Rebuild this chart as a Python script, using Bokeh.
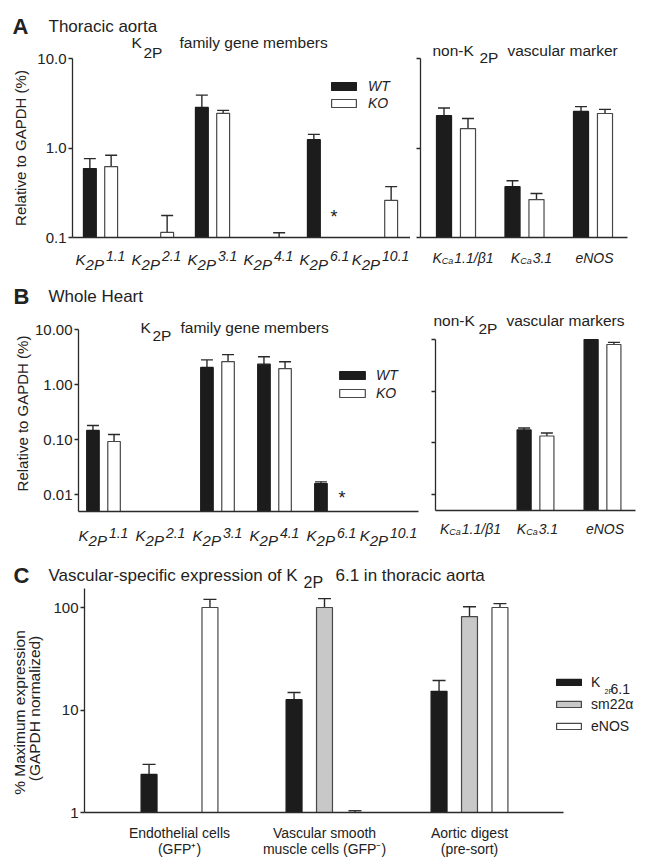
import math
from bokeh.plotting import figure
from bokeh.models import (Range1d, FixedTicker, NumeralTickFormatter, Label, Legend,
                          LegendItem, Whisker, TeeHead, ColumnDataSource)
from bokeh.layouts import column, row
from bokeh.embed import file_html
from bokeh.resources import INLINE

FONT = "Liberation Sans"
INK = "#222222"
AX = "#2a2a2a"
BLACK = "#1c1c1c"
EDGE = "#474747"
GREY = "#c8c8c8"

# ---------------- data ----------------
k2p_members = ["1.1", "2.1", "3.1", "4.1", "6.1", "10.1"]
marker_parts = [("K", "Ca", "1.1/β1"), ("K", "Ca", "3.1"), ("", "", "eNOS")]
genotypes = ["WT", "KO"]

# A: thoracic aorta, relative to GAPDH (%)
a_k2p_wt = [0.59, None, 2.84, None, 1.24, None]
a_k2p_wt_sem = [0.17, None, 1.06, None, 0.18, None]
a_k2p_ko = [0.62, 0.114, 2.44, 0.10, None, 0.26]
a_k2p_ko_sem = [0.21, 0.062, 0.19, 0.013, None, 0.11]
a_mark_wt = [2.30, 0.37, 2.56]
a_mark_wt_sem = [0.50, 0.06, 0.34]
a_mark_ko = [1.65, 0.265, 2.43]
a_mark_ko_sem = [0.49, 0.045, 0.27]

# B: whole heart, relative to GAPDH (%)
b_k2p_wt = [0.146, None, 2.04, 2.34, 0.0158, None]
b_k2p_wt_sem = [0.034, None, 0.76, 0.86, 0.0012, None]
b_k2p_ko = [0.092, None, 2.60, 1.95, None, None]
b_k2p_ko_sem = [0.031, None, 0.90, 0.65, None, None]
b_mark_wt = [None, 0.178, 10.0]
b_mark_wt_sem = [None, 0.016, None]
b_mark_ko = [None, 0.136, 8.0]
b_mark_ko_sem = [None, 0.019, 0.8]

# C: % maximum expression (GAPDH normalized)
c_groups = [("Endothelial cells", "(GFP\u207a)"),
            ("Vascular smooth", "muscle cells (GFP\u207b)"),
            ("Aortic digest", "(pre-sort)")]
c_series = ["K", "sm22\u03b1", "eNOS"]
c_k2p61 = [2.35, 12.6, 15.2]
c_k2p61_sem = [0.60, 2.2, 4.2]
c_sm22 = [None, 100.0, 81.6]
c_sm22_sem = [None, 22.0, 20.0]
c_enos = [100.0, 1.0, 100.0]
c_enos_sem = [20.0, 0.04, 9.0]

# ---------------- helpers ----------------
ADV = {'K': .667, 'P': .667, 'C': .722, 'N': .722, 'O': .778, 'S': .667,
       'a': .556, 'e': .556, '.': .278, '/': .278, '\u03b2': .575}


def text_w(s, px):
    return sum(ADV.get(ch, 0.556) for ch in s) * px


class Panel:
    """A figure whose frame fills its canvas; axes are pinned with fixed_location."""

    def __init__(self, CL, CT, W, H, u, G0, Y10, d, ax_px, xend_px, base, top,
                 ticks, fmt, labels=True):
        self.CL, self.CT, self.W, self.H = CL, CT, W, H
        xr = ((CL - G0) / u, (CL + W - G0) / u)
        yr = (10 ** (1 - (CT + H - Y10) / d), 10 ** (1 + (Y10 - CT) / d))
        ax_x = (ax_px - G0) / u
        xend = (xend_px - G0) / u
        p = figure(width=W, height=H, x_range=Range1d(*xr), y_range=Range1d(*yr),
                   y_axis_type="log", output_backend="svg", toolbar_location=None,
                   min_border_left=0, min_border_right=0, min_border_top=0,
                   min_border_bottom=0, tools="")
        p.outline_line_color = None
        p.xgrid.visible = False
        p.ygrid.visible = False
        p.background_fill_color = "white"
        p.border_fill_color = "white"
        xa = p.xaxis[0]
        xa.fixed_location = base
        xa.bounds = (ax_x, xend)
        xa.ticker = FixedTicker(ticks=[])
        xa.major_tick_line_color = None
        xa.minor_tick_line_color = None
        xa.axis_line_color = AX
        xa.axis_line_width = 1.3
        ya = p.yaxis[0]
        ya.fixed_location = ax_x
        ya.bounds = (base, top)
        ya.ticker = FixedTicker(ticks=ticks)
        ya.formatter = NumeralTickFormatter(format=fmt)
        ya.axis_line_color = AX
        ya.axis_line_width = 1.3
        ya.major_tick_line_color = AX
        ya.major_tick_line_width = 1.3
        ya.major_tick_in = 0
        ya.major_tick_out = 4
        ya.minor_tick_line_color = None
        ya.major_label_standoff = 2
        ya.major_label_text_font = FONT
        ya.major_label_text_color = INK
        ya.major_label_text_font_size = "15px"
        if not labels:
            ya.major_label_overrides = {t: "" for t in ticks}
        self.p = p
        self.base = base

    def fx(self, px):
        return px - self.CL

    def fy(self, py):
        return self.CT + self.H - py

    def lab(self, px, py, text, size, bold=False, italic=False, **kw):
        style = "bold" if bold else ("italic" if italic else "normal")
        opts = dict(text_baseline="alphabetic", text_align="left")
        opts.update(kw)
        self.p.add_layout(Label(x=self.fx(px), y=self.fy(py), x_units="screen",
                                y_units="screen", text=text, text_font=FONT,
                                text_font_size=f"{size}px", text_color=INK,
                                text_font_style=style, **opts))

    def rich_tick(self, xdata, parts, py, shift=0):
        total = sum(text_w(t, s) + g for t, s, d, g in parts)
        cur = -total / 2 + shift
        for t, s, d, g in parts:
            if t:
                self.p.add_layout(Label(x=xdata, y=self.fy(py + d), x_units="data",
                                        y_units="screen", x_offset=cur, text=t,
                                        text_font=FONT, text_font_size=f"{s}px",
                                        text_font_style="italic",
                                        text_color=INK, text_align="left",
                                        text_baseline="alphabetic"))
            cur += text_w(t, s) + g

    def bars(self, vals, sems, offset, width, fill, line, cap):
        pts = [(i + offset, v, s) for i, (v, s) in enumerate(zip(vals, sems)) if v is not None]
        src = ColumnDataSource(dict(x=[a for a, _, _ in pts], top=[b for _, b, _ in pts]))
        r = self.p.vbar(x="x", top="top", bottom=self.base, width=width, source=src,
                        fill_color=fill, line_color=line, line_width=1.2)
        wp = [(a, b, b + s) for a, b, s in pts if s is not None]
        wsrc = ColumnDataSource(dict(base=[a for a, _, _ in wp], lower=[b for _, b, _ in wp],
                                     upper=[c for _, _, c in wp]))
        self.p.add_layout(Whisker(source=wsrc, base="base", lower="lower", upper="upper",
                                  dimension="height", line_color=AX, line_width=1.4,
                                  upper_head=TeeHead(size=cap, line_color=AX, line_width=1.4),
                                  lower_head=None))
        return r

    def legend(self, items, px, py_bottom, gw, gh, lh, standoff, size, italic):
        leg = Legend(items=[LegendItem(label=t, renderers=[r]) for t, r in items],
                     location=(self.fx(px), self.fy(py_bottom)), orientation="vertical",
                     glyph_width=gw, glyph_height=gh, label_height=lh,
                     label_standoff=standoff, spacing=0, padding=0, margin=0,
                     border_line_color=None, background_fill_alpha=0,
                     label_text_font=FONT, label_text_font_size=f"{size}px",
                     label_text_color=INK,
                     label_text_font_style="italic" if italic else "normal")
        self.p.add_layout(leg)


# ---------------- panel A ----------------
AL = Panel(0, 0, 410, 275, 56, 100, 58, 89.5, 72, 410, 0.1, 10.0, [0.1, 1, 10], "0.0")
rw = AL.bars(a_k2p_wt, a_k2p_wt_sem, -0.19, 0.23, BLACK, BLACK, 12)
rk = AL.bars(a_k2p_ko, a_k2p_ko_sem, 0.19, 0.23, "white", EDGE, 12)
AL.legend([(genotypes[0], rw), (genotypes[1], rk)], 328, 111.5, 31, 10, 17, 9, 14, True)
for i, m in enumerate(k2p_members):
    AL.rich_tick(i, [("K", 15, 0, 0), ("2P", 15, 5, 2), (m, 14, -4, 0)], 259)
AL.lab(12, 26, "A", 22, bold=True)
AL.lab(48, 26, "Thoracic aorta", 17)
AL.lab(131, 42, "K", 15.5)
AL.lab(143, 52, "2P", 15.5)
AL.lab(179, 42, "family gene members", 15.5)
AL.lab(330, 216, "*", 18)
AL.lab(20, 147.5, "Relative to GAPDH (%)", 15, angle=math.pi / 2,
       text_align="center", text_baseline="middle")

AR = Panel(410, 0, 236, 275, 68.5, 455.5, 58, 89.5, 420, 627, 0.1, 10.0,
           [0.1, 1, 10], "0.0", labels=False)
AR.bars(a_mark_wt, a_mark_wt_sem, -0.175, 0.22, BLACK, BLACK, 12)
AR.bars(a_mark_ko, a_mark_ko_sem, 0.175, 0.22, "white", EDGE, 12)
for i, (k, sub, rest) in enumerate(marker_parts):
    AR.rich_tick(i, [(k, 14, 0, 0), (sub, 9, 3, 1), (rest, 14, 0, 0)], 257,
                 shift=7 if rest != "eNOS" else 1)
AR.lab(432, 50, "non-K", 15.5)
AR.lab(479, 57, "2P", 15.5)
AR.lab(507, 50, "vascular marker", 15.5)

# ---------------- panel B ----------------
BL = Panel(0, 275, 420, 275, 57, 103, 329, 55, 78, 418, 10 ** (1 - 182 / 55), 10.0,
           [0.01, 0.1, 1, 10], "0.00")
rw = BL.bars(b_k2p_wt, b_k2p_wt_sem, -0.185, 0.22, BLACK, BLACK, 12)
rk = BL.bars(b_k2p_ko, b_k2p_ko_sem, 0.185, 0.22, "white", EDGE, 12)
BL.legend([(genotypes[0], rw), (genotypes[1], rk)], 336, 401.5, 32, 10, 18, 8, 14, True)
for i, m in enumerate(k2p_members):
    BL.rich_tick(i, [("K", 15, 0, 0), ("2P", 15, 5, 2), (m, 14, -3, 0)], 535)
BL.lab(13, 296, "B", 22, bold=True)
BL.lab(48, 296, "Whole Heart", 17)
BL.lab(140, 327, "K", 15.5)
BL.lab(152, 335, "2P", 15.5)
BL.lab(180, 327, "family gene members", 15.5)
BL.lab(338, 497, "*", 18)
BL.lab(21.5, 413, "Relative to GAPDH (%)", 15, angle=math.pi / 2,
       text_align="center", text_baseline="middle")

BR = Panel(420, 275, 226, 275, 67, 468, 339, 51.7, 435, 635, 10 ** (1 - 171 / 51.7), 10.0,
           [0.01, 0.1, 1, 10], "0.00", labels=False)
BR.bars(b_mark_wt, b_mark_wt_sem, -0.17, 0.21, BLACK, BLACK, 12)
BR.bars(b_mark_ko, b_mark_ko_sem, 0.17, 0.21, "white", EDGE, 12)
for i, (k, sub, rest) in enumerate(marker_parts):
    BR.rich_tick(i, [(k, 14, 0, 0), (sub, 9, 3, 1), (rest, 14, 0, 0)], 528, shift=2)
BR.lab(433, 320, "non-K", 15.5)
BR.lab(478, 328, "2P", 15.5)
BR.lab(506, 320, "vascular markers", 15.5)

# ---------------- panel C ----------------
C = Panel(0, 550, 646, 310, 145, 179, 709.5, 102.5, 84, 563, 1.0, 153.0,
          [1, 10, 100], "0")
r1 = C.bars(c_k2p61, c_k2p61_sem, -0.21, 0.11, BLACK, BLACK, 13)
r2 = C.bars(c_sm22, c_sm22_sem, 0.0, 0.11, GREY, EDGE, 13)
r3 = C.bars(c_enos, c_enos_sem, 0.21, 0.11, "white", EDGE, 13)
C.legend([(c_series[0], r1), (c_series[1], r2), (c_series[2], r3)], 553, 737,
         31, 8, 22, 7, 14, False)
C.lab(604, 691, "2P", 7)
C.lab(610, 688, "6.1", 14)
for i, (l1, l2) in enumerate(c_groups):
    C.p.add_layout(Label(x=i, y=C.fy(832), x_units="data", y_units="screen", text=l1,
                         text_font=FONT, text_font_size="14px", text_color=INK,
                         text_align="center", text_baseline="alphabetic"))
    C.p.add_layout(Label(x=i, y=C.fy(848), x_units="data", y_units="screen", text=l2,
                         text_font=FONT, text_font_size="14px", text_color=INK,
                         text_align="center", text_baseline="alphabetic"))
C.lab(13, 575, "C", 22, bold=True)
C.lab(48, 575, "Vascular-specific expression of K", 17)
C.lab(303, 582, "2P", 16)
C.lab(335, 575, "6.1 in thoracic aorta", 17)
C.lab(19, 712, "% Maximum expression", 15.5, angle=math.pi / 2,
      text_align="center", text_baseline="middle")
C.lab(34, 708, "(GAPDH normalized)", 15.5, angle=math.pi / 2,
      text_align="center", text_baseline="middle")

layout = column(row(AL.p, AR.p), row(BL.p, BR.p), C.p)
open("out.html", "w").write(file_html(layout, INLINE))
